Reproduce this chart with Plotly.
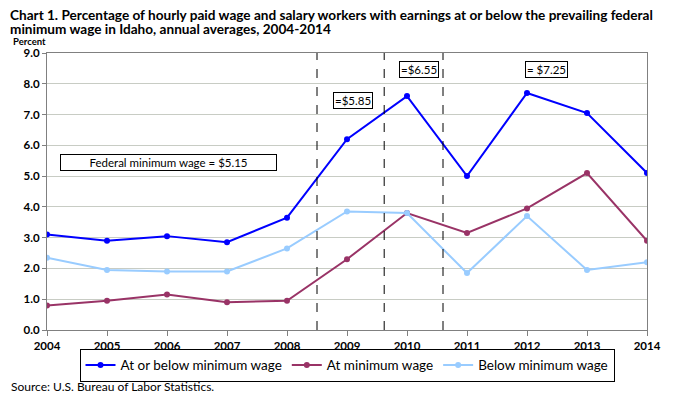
import plotly.graph_objects as go

years = [2004, 2005, 2006, 2007, 2008, 2009, 2010, 2011, 2012, 2013, 2014]
at_or_below = [3.1, 2.9, 3.05, 2.85, 3.65, 6.2, 7.6, 5.0, 7.7, 7.05, 5.1]
at_min = [0.8, 0.95, 1.15, 0.9, 0.95, 2.3, 3.8, 3.15, 3.95, 5.1, 2.9]
below_min = [2.35, 1.95, 1.9, 1.9, 2.65, 3.85, 3.8, 1.85, 3.7, 1.95, 2.2]
wage_change_x = [2008.5, 2009.62, 2010.6]
wage_labels = ["=$5.85", "=$6.55", "= $7.25"]
wage_label_pos = [(2009.1, 7.45), (2010.2, 8.45), (2012.32, 8.45)]
y_ticks = [0, 1, 2, 3, 4, 5, 6, 7, 8, 9]

FONT = "Lato, Open Sans, sans-serif"

fig = go.Figure()
series = [
    ("At or below minimum wage", at_or_below, "#0000ff"),
    ("At minimum wage", at_min, "#993366"),
    ("Below minimum wage", below_min, "#99ccff"),
]
for name, vals, col in series:
    fig.add_trace(go.Scatter(
        x=years, y=vals, name=name, mode="lines+markers",
        line=dict(color=col, width=2), marker=dict(color=col, size=6),
    ))

for xv in wage_change_x:
    fig.add_shape(type="line", x0=xv, x1=xv, y0=0, y1=9, xref="x", yref="y",
                  line=dict(color="black", width=1, dash="dash"))

for txt, (xv, yv) in zip(wage_labels, wage_label_pos):
    fig.add_annotation(x=xv, y=yv, text=txt, showarrow=False, xref="x", yref="y",
                       font=dict(size=11.5, color="black", family=FONT),
                       bordercolor="black", borderwidth=1, borderpad=1, bgcolor="white")

fig.add_annotation(x=2006.03, y=5.45, text="Federal minimum wage = $5.15", showarrow=False,
                   xref="x", yref="y", width=213,
                   font=dict(size=11.5, color="black", family=FONT),
                   bordercolor="black", borderwidth=1, borderpad=1, bgcolor="white")

# Title (two lines)
fig.add_annotation(x=0, xshift=-39, y=1, yshift=38, xref="paper", yref="paper",
                   xanchor="left", yanchor="middle", showarrow=False,
                   text="Chart 1. Percentage of hourly paid wage and salary workers with earnings at or below the prevailing federal",
                   font=dict(size=13.6, color="black", family=FONT, weight="bold"))
fig.add_annotation(x=0, xshift=-39, y=1, yshift=24, xref="paper", yref="paper",
                   xanchor="left", yanchor="middle", showarrow=False,
                   text="minimum wage in Idaho, annual averages, 2004-2014",
                   font=dict(size=13.6, color="black", family=FONT, weight="bold"))

fig.add_annotation(x=0, xshift=-36, y=1, yshift=11.5, xref="paper", yref="paper",
                   xanchor="left", yanchor="middle",
                   text="Percent", showarrow=False,
                   font=dict(size=9.5, color="black", family=FONT, weight="bold"))

fig.add_annotation(x=0, xshift=-38, y=0, yshift=-56, xref="paper", yref="paper",
                   xanchor="left", yanchor="middle", text="Source: U.S. Bureau of Labor Statistics.",
                   showarrow=False, font=dict(size=12, color="black", family=FONT))

# The page adds an 8px body margin, so the figure is drawn 8px smaller and margins shifted.
fig.update_layout(
    width=665, height=386,
    margin=dict(l=39, r=22, t=45, b=59),
    paper_bgcolor="white", plot_bgcolor="white",
    font=dict(family=FONT, color="black"),
    showlegend=True,
    legend=dict(orientation="h", x=0.5, xanchor="center", y=-0.068, yanchor="top",
                bordercolor="black", borderwidth=1, bgcolor="white",
                font=dict(size=13.5, family=FONT), tracegroupgap=0),
    xaxis=dict(range=[2004, 2014], tickmode="array", tickvals=years,
               ticks="outside", ticklen=5, tickcolor="#808080",
               showgrid=False, showline=True, linecolor="#808080", mirror=True,
               tickfont=dict(size=11.5, family=FONT, weight="bold"),
               zeroline=False),
    yaxis=dict(range=[0, 9], tickmode="array", tickvals=y_ticks,
               tickformat=".1f",
               ticks="outside", ticklen=4, tickcolor="#808080",
               showgrid=True, gridcolor="#c8ccc4", showline=True, linecolor="#808080",
               mirror=True, tickfont=dict(size=11.5, family=FONT, weight="bold"),
               zeroline=False),
)

fig.write_html("out.html")
